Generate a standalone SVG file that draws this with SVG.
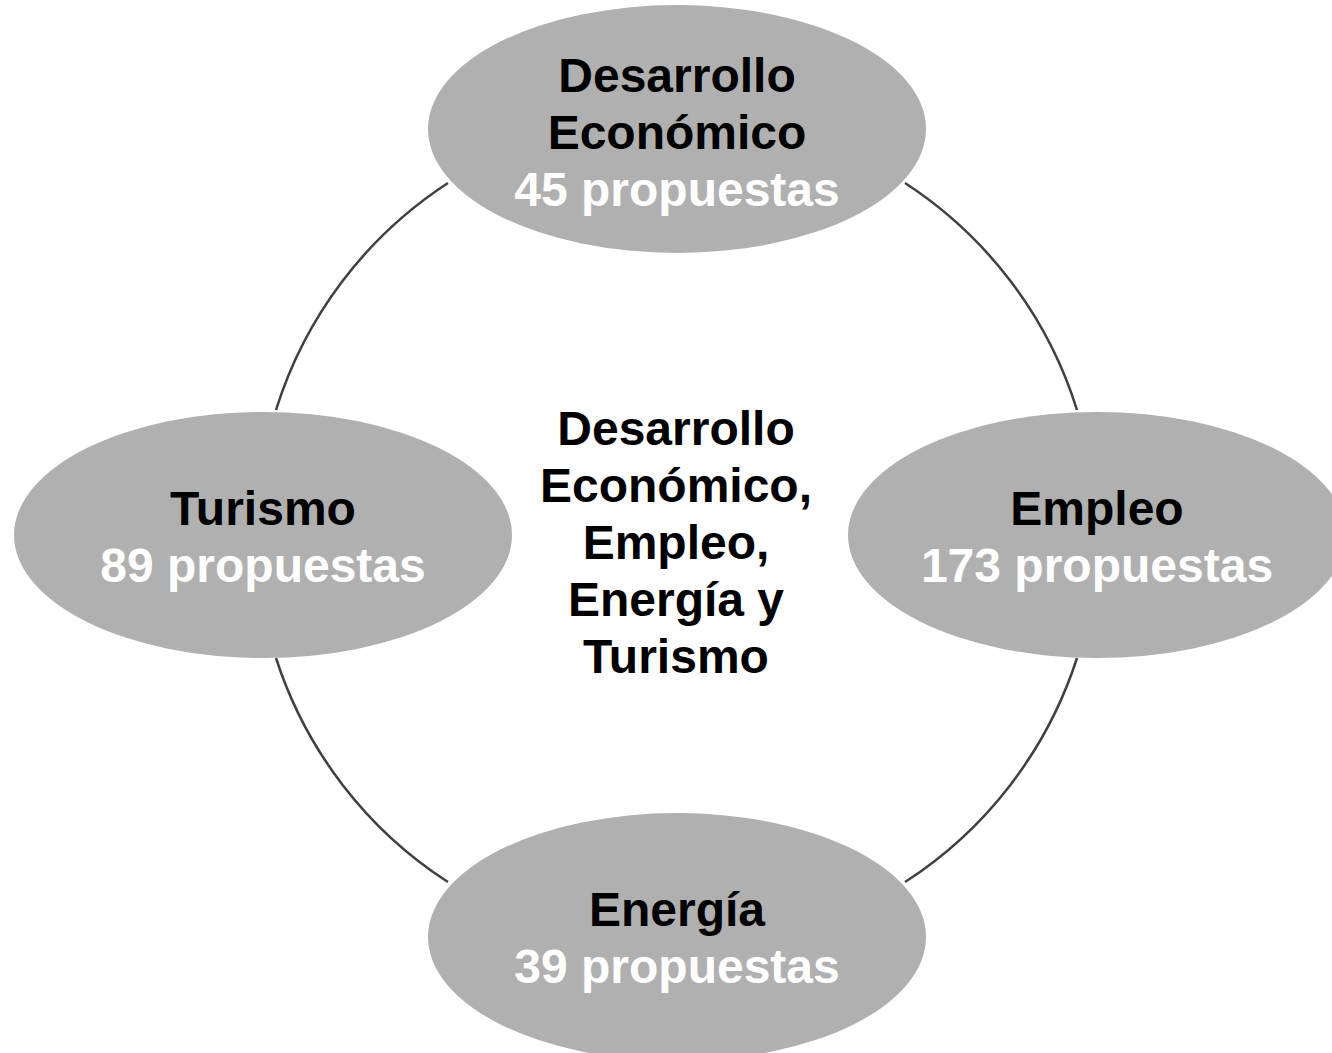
<svg xmlns="http://www.w3.org/2000/svg" width="1332" height="1053" viewBox="0 0 1332 1053">
  <style>
    .node { fill: #b0b0b0; }
    .t { font-family: "Liberation Sans", Arial, sans-serif; font-weight: bold; font-size: 48px; text-anchor: middle; }
    .dark { fill: #000000; }
    .light { fill: #ffffff; }
    .arc { fill: none; stroke: #404040; stroke-width: 2.5; }
  </style>
  <rect width="1332" height="1053" fill="#ffffff"/>
  <g id="connectors">
    <path class="arc" d="M 276 410 A 420 420 0 0 1 448 183"/>
    <path class="arc" d="M 905 183 A 420 420 0 0 1 1077 410"/>
    <path class="arc" d="M 1077 658 A 420 420 0 0 1 905 882"/>
    <path class="arc" d="M 448 882 A 420 420 0 0 1 276 658"/>
  </g>
  <g id="center">
    <text class="t dark" x="676" y="445">Desarrollo</text>
    <text class="t dark" x="676" y="502">Económico,</text>
    <text class="t dark" x="676" y="559">Empleo,</text>
    <text class="t dark" x="676" y="616">Energía y</text>
    <text class="t dark" x="676" y="673">Turismo</text>
  </g>
  <g id="node-desarrollo">
    <ellipse class="node" cx="677" cy="129" rx="249" ry="124"/>
    <text class="t dark" x="677" y="92">Desarrollo</text>
    <text class="t dark" x="677" y="149">Económico</text>
    <text class="t light" x="677" y="206">45 propuestas</text>
  </g>
  <g id="node-turismo">
    <ellipse class="node" cx="263" cy="535" rx="249" ry="123"/>
    <text class="t dark" x="263" y="525">Turismo</text>
    <text class="t light" x="263" y="582">89 propuestas</text>
  </g>
  <g id="node-empleo">
    <ellipse class="node" cx="1097" cy="535" rx="249" ry="123"/>
    <text class="t dark" x="1097" y="525">Empleo</text>
    <text class="t light" x="1097" y="582">173 propuestas</text>
  </g>
  <g id="node-energia">
    <ellipse class="node" cx="677" cy="937" rx="249" ry="124"/>
    <text class="t dark" x="677" y="926">Energía</text>
    <text class="t light" x="677" y="983">39 propuestas</text>
  </g>
</svg>
